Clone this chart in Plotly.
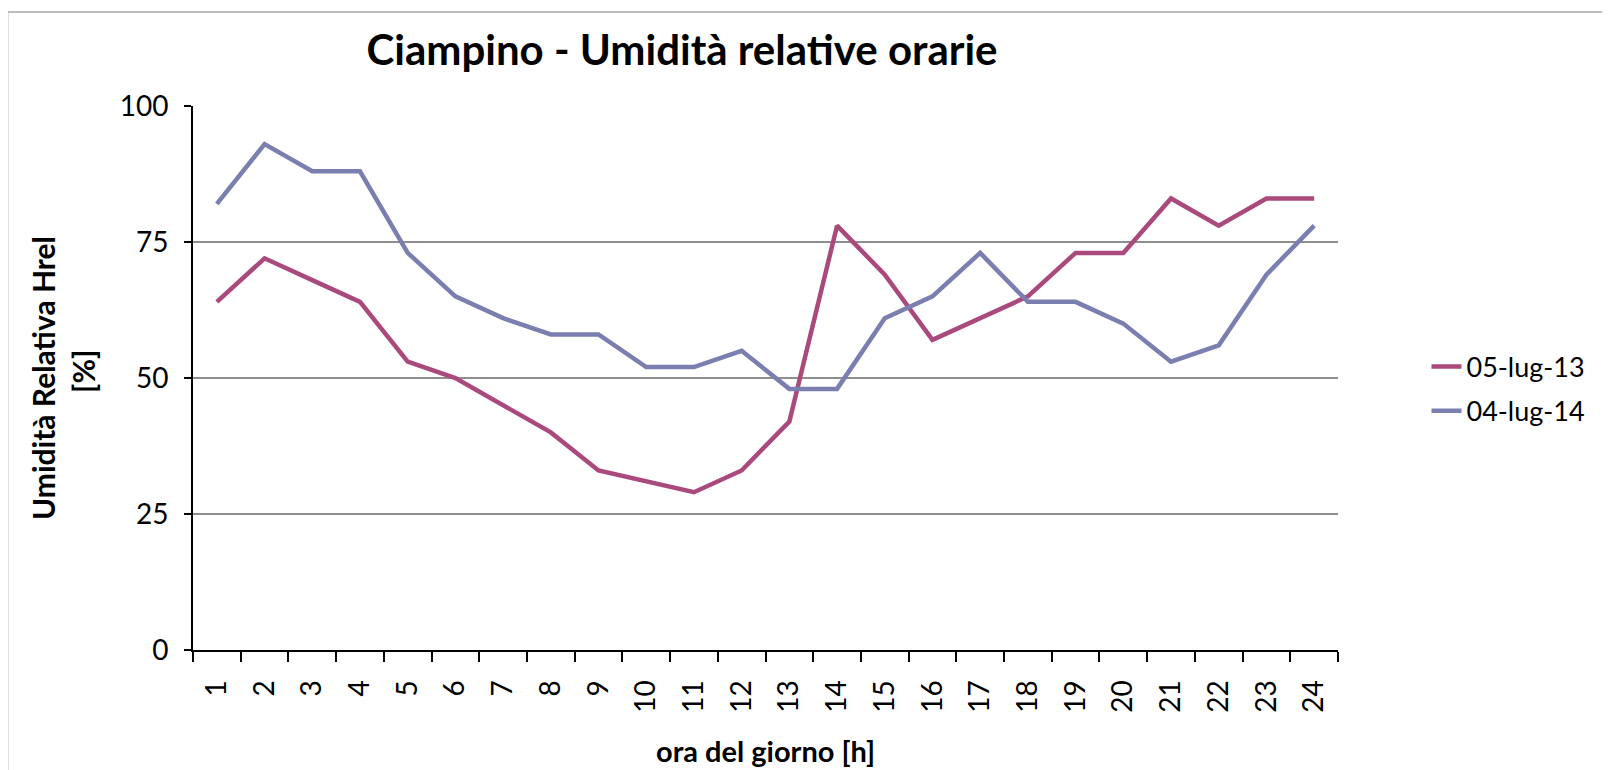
import plotly.graph_objects as go

# ore del giorno
ore = [str(h) for h in range(1, 25)]

# umidita relativa oraria [%]
hrel_05_lug_13 = [64, 72, 68, 64, 53, 50, 45, 40, 33, 31, 29, 33,
                  42, 78, 69, 57, 61, 65, 73, 73, 83, 78, 83, 83]
hrel_04_lug_14 = [82, 93, 88, 88, 73, 65, 61, 58, 58, 52, 52, 55,
                  48, 48, 61, 65, 73, 64, 64, 60, 53, 56, 69, 78]

y_ticks = [0, 25, 50, 75, 100]

FONT = "Lato"

# la pagina ha un margine di 8px (body): coordinate in pixel della pagina -> figura
OFF = 8
# area del grafico in pixel della pagina: x 193..1338, y 106..650
L, R, T, B = 193 - OFF, 1338 - OFF, 106 - OFF, 650 - OFF
W, H = R - L, B - T


def px(x):
    return (x - OFF - L) / W


def py(y):
    return (B - (y - OFF)) / H


fig = go.Figure()
fig.add_trace(go.Scatter(x=ore, y=hrel_05_lug_13, mode="lines", name="05-lug-13",
                         line=dict(color="#AA4A7C", width=4.5), legendgroup="a"))
fig.add_trace(go.Scatter(x=ore, y=hrel_04_lug_14, mode="lines", name="04-lug-14",
                         line=dict(color="#7A7FAF", width=4.5), legendgroup="b"))

fig.update_layout(
    width=1610, height=770,
    margin=dict(l=L, r=1610-R, t=T, b=770-B, autoexpand=False),
    paper_bgcolor="white", plot_bgcolor="white",
    font=dict(family=FONT, size=28, color="black"),
    title=dict(text="<b>Ciampino - Umidità relative orarie</b>", font=dict(size=42),
               x=674/1610, xanchor="center", xref="container",
               y=1-42/770, yanchor="middle", yref="container"),
    legend=dict(x=px(1426.5), xanchor="left", y=py(389), yanchor="middle",
                traceorder="grouped", tracegroupgap=6, font=dict(size=27),
                bgcolor="rgba(0,0,0,0)"),
    showlegend=True,
)

fig.update_xaxes(type="category", range=[-0.5, 23.5], tickson="boundaries",
                 ticks="outside", ticklen=10, tickwidth=2, tickcolor="black",
                 showline=True, linecolor="black", linewidth=2, showgrid=False,
                 tickangle=-90, ticklabelstandoff=17, tickfont=dict(size=28),
                 automargin=False)
fig.update_yaxes(range=[0, 100], tickvals=y_ticks, ticks="outside", ticklen=7,
                 tickwidth=2, tickcolor="black", showline=True, linecolor="black",
                 linewidth=2, gridcolor="#8E8E8E", gridwidth=2, zeroline=False,
                 ticklabelstandoff=10, automargin=False)

# titoli degli assi
fig.add_annotation(text="<b>ora del giorno [h]</b>", xref="paper", yref="paper",
                   x=0.5, y=py(731), xanchor="center", yanchor="top",
                   showarrow=False, font=dict(size=29))
fig.add_annotation(text="<b>Umidità Relativa Hrel</b>", xref="paper", yref="paper",
                   x=px(43), y=py(378), xanchor="center", yanchor="middle",
                   textangle=-90, showarrow=False, font=dict(size=30))
fig.add_annotation(text="<b>[%]</b>", xref="paper", yref="paper",
                   x=px(83), y=py(372), xanchor="center", yanchor="middle",
                   textangle=-90, showarrow=False, font=dict(size=30))

# bordo dell'area del grafico
fig.add_shape(type="rect", xref="paper", yref="paper",
              x0=px(7.5), x1=px(1640), y0=py(800), y1=py(12),
              line=dict(color="#BDBDBD", width=2), layer="below")

fig.write_html("out.html")
